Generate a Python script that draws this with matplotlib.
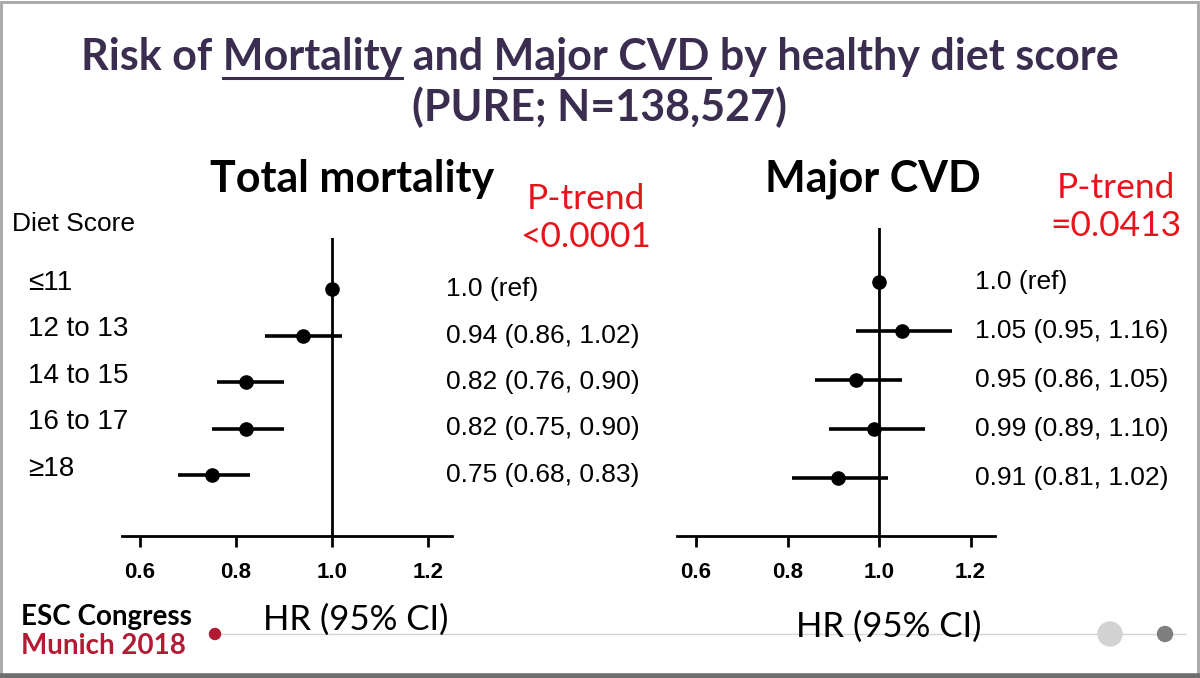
"""
    Forest plot: Mortality and Major CVD by healthy diet score (PURE)
"""
import numpy as np
import matplotlib
matplotlib.use('Agg')
import matplotlib.pyplot as plt
import matplotlib.transforms as mtransforms
from matplotlib.lines import Line2D
from matplotlib.patches import Rectangle, Ellipse

# Datos
categorias = ['≤11', '12 to 13', '14 to 15', '16 to 17', '≥18']

mort_hr = [1.0, 0.94, 0.82, 0.82, 0.75]
mort_lo = [np.nan, 0.86, 0.76, 0.75, 0.68]
mort_hi = [np.nan, 1.02, 0.90, 0.90, 0.83]
mort_txt = ['1.0 (ref)', '0.94 (0.86, 1.02)', '0.82 (0.76, 0.90)',
            '0.82 (0.75, 0.90)', '0.75 (0.68, 0.83)']

cvd_hr = [1.0, 1.05, 0.95, 0.99, 0.91]
cvd_lo = [np.nan, 0.95, 0.86, 0.89, 0.81]
cvd_hi = [np.nan, 1.16, 1.05, 1.10, 1.02]
cvd_txt = ['1.0 (ref)', '1.05 (0.95, 1.16)', '0.95 (0.86, 1.05)',
           '0.99 (0.89, 1.10)', '0.91 (0.81, 1.02)']

ticks = [0.6, 0.8, 1.0, 1.2]
tick_txt = ['0.6', '0.8', '1.0', '1.2']

W, H = 1200, 678
fig = plt.figure(figsize=(W / 100, H / 100), dpi=100)
fig.patch.set_facecolor('white')

ARIAL = ['Liberation Sans', 'DejaVu Sans']
CALIBRI = ['Lato', 'DejaVu Sans']
PURPLE = '#3b2d4f'
RED = '#e8141b'
ESCRED = '#b31b34'


def px_ax(x0, x1, y0, y1):
    # caja de ejes en pixeles (y desde arriba)
    return fig.add_axes([x0 / W, 1 - y1 / H, (x1 - x0) / W, (y1 - y0) / H])


def lims(p0, p1, v0, v1, e0, e1):
    # p0,p1 pixeles de dos valores v0,v1 -> limites en bordes e0,e1
    k = (v1 - v0) / (p1 - p0)
    return v0 + (e0 - p0) * k, v0 + (e1 - p0) * k


def ftext(x, y, s, **kw):
    return fig.text(x / W, 1 - y / H, s, **kw)


def forest(box, xpix, ypix, hr, lo, hi, txt, txt_x):
    x0, x1, y0, y1 = box
    ax = px_ax(x0, x1, y0, y1)
    ax.set_xlim(*lims(xpix[0], xpix[1], 0.6, 1.0, x0, x1))
    ax.set_ylim(*lims(ypix[0], ypix[1], 0, 4, y1, y0))
    filas = np.arange(len(hr))
    ax.axvline(1.0, color='black', lw=2)
    ax.hlines(filas, lo, hi, color='black', lw=2.6)
    ax.plot(hr, filas, 'o', color='black', ms=9.5)
    for s in ['top', 'right', 'left']:
        ax.spines[s].set_visible(False)
    ax.spines['bottom'].set_linewidth(2)
    ax.set_yticks([])
    ax.set_xticks(ticks)
    ax.set_xticklabels(tick_txt, fontfamily=ARIAL, fontweight='bold', fontsize=16)
    ax.tick_params(axis='x', direction='out', length=8, width=2, pad=11)
    tr = mtransforms.blended_transform_factory(fig.transFigure, ax.transData)
    for i, t in enumerate(txt):
        ax.text(txt_x / W, filas[i], t, transform=tr, ha='left', va='center',
                fontfamily=ARIAL, fontsize=19, clip_on=False)
    return ax


ax1 = forest((122, 452, 238, 536), (140, 332), (289, 475),
             mort_hr, mort_lo, mort_hi, mort_txt, 446)
ax2 = forest((677, 995, 228, 536), (696, 879), (282, 478),
             cvd_hr, cvd_lo, cvd_hi, cvd_txt, 975)

# etiquetas de categorias
tr1 = mtransforms.blended_transform_factory(fig.transFigure, ax1.transData)
for i, c in enumerate(categorias):
    ax1.text(28 / W, i - 0.13, c, transform=tr1, ha='left', va='center',
             fontfamily=ARIAL, fontsize=20, clip_on=False)
ftext(12, 224, 'Diet Score', ha='left', va='center', fontfamily=ARIAL, fontsize=19)

# titulo con subrayado
renderer = fig.canvas.get_renderer()
title_kw = dict(fontfamily=CALIBRI, fontweight='bold', fontsize=31, color=PURPLE)


def ancho(s):
    t = fig.text(0, 0, s + 'x', **title_kw)
    w = t.get_window_extent(renderer).width
    t.remove()
    t = fig.text(0, 0, 'x', **title_kw)
    w -= t.get_window_extent(renderer).width
    t.remove()
    return w


piezas = ['Risk of ', 'Mortality', ' and ', 'Major CVD', ' by healthy diet score']
total = ancho(''.join(piezas))
x = 600 - total / 2
ftext(x, 57, ''.join(piezas), ha='left', va='center', **title_kw)
for k, p in enumerate(piezas):
    if k in (1, 3):
        xs = x + ancho(''.join(piezas[:k]))
        xe = xs + ancho(p)
        fig.add_artist(Line2D([xs / W, xe / W], [1 - 78 / H, 1 - 78 / H],
                              color=PURPLE, lw=2.2))
ftext(600, 107, '(PURE; N=138,527)', ha='center', va='center', **title_kw)

# subtitulos
ftext(352, 179, 'Total mortality', ha='center', va='center',
      fontfamily=CALIBRI, fontweight='bold', fontsize=31, color='black')
ftext(873, 179, 'Major CVD', ha='center', va='center',
      fontfamily=CALIBRI, fontweight='bold', fontsize=31, color='black')
ptr_kw = dict(ha='center', va='center', fontfamily=CALIBRI, fontsize=25.5, color=RED)
ftext(586, 199, 'P-trend', **ptr_kw)
ftext(586, 237, '<0.0001', **ptr_kw)
ftext(1116, 188, 'P-trend', **ptr_kw)
ftext(1116, 226, '=0.0413', **ptr_kw)

# eje x
ftext(356, 620, 'HR (95% CI)', ha='center', va='center',
      fontfamily=CALIBRI, fontsize=25, color='black')
ftext(889, 627, 'HR (95% CI)', ha='center', va='center',
      fontfamily=CALIBRI, fontsize=25, color='black')

# pie de diapositiva
fig.add_artist(Line2D([215 / W, 1185 / W], [1 - 634 / H, 1 - 634 / H],
                      color='#d4d4d4', lw=1, zorder=0))
fig.add_artist(Ellipse((215 / W, 1 - 634 / H), 11 / W, 11 / H, color=ESCRED))
fig.add_artist(Ellipse((1110 / W, 1 - 634 / H), 24 / W, 24 / H, color='#d3d3d3'))
fig.add_artist(Ellipse((1165 / W, 1 - 634 / H), 15 / W, 15 / H, color='#7f7f7f'))
ftext(21, 617, 'ESC Congress', ha='left', va='center',
      fontfamily=CALIBRI, fontweight='bold', fontsize=20, color='black')
ftext(21, 646, 'Munich 2018', ha='left', va='center',
      fontfamily=CALIBRI, fontweight='bold', fontsize=20, color=ESCRED)

# marco
fig.add_artist(Rectangle((0.5 / W, 2.5 / H), (W - 3) / W, (H - 4) / H, fill=False,
                         edgecolor='#a6a6a6', lw=2))
fig.add_artist(Line2D([0, 1], [2 / H, 2 / H], color='#6e6e6e', lw=4))

fig.savefig('out.png', dpi=100)
